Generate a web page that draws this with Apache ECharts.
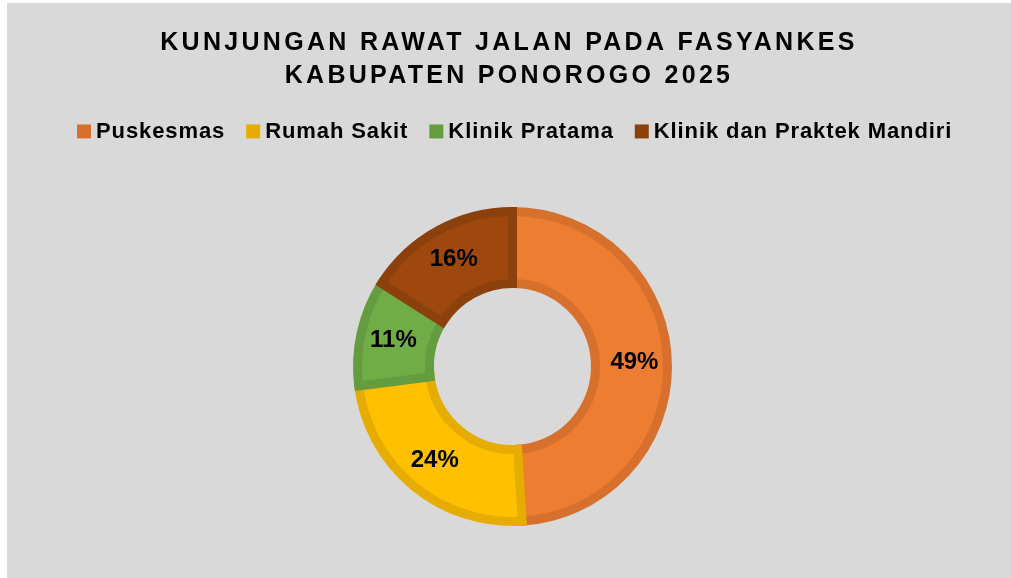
<!DOCTYPE html>
<html>
<head>
<meta charset="utf-8">
<script src="https://cdn.jsdelivr.net/npm/echarts@6/dist/echarts.min.js"></script>
<style>
  html, body { margin: 0; padding: 0; background: #fff; }
  #chart { position: absolute; left: 7px; top: 3px; width: 1004px; height: 575px; background: #d9d9d9; }
</style>
</head>
<body>
<div id="chart"></div>
<script>
var categories = ['Puskesmas', 'Rumah Sakit', 'Klinik Pratama', 'Klinik dan Praktek Mandiri'];
var values = [49, 24, 11, 16];
var fillColors = ['#ed7d31', '#ffc000', '#70ad47', '#9e480e'];
var edgeColors = ['#d6702c', '#e6ad00', '#649c3f', '#8c400c'];

// Excel-like spaced lettering for title and legend (keyed on font size)
var spacing = { '25': '3.3px', '22': '0.9px' };
var proto = CanvasRenderingContext2D.prototype;
['fillText', 'strokeText', 'measureText'].forEach(function (fn) {
    var orig = proto[fn];
    proto[fn] = function () {
        var m = /(\d+)px/.exec(this.font);
        this.letterSpacing = (m && spacing[m[1]]) || '0px';
        return orig.apply(this, arguments);
    };
});

var font = 'Liberation Sans';
var chart = echarts.init(document.getElementById('chart'));
var option = {
    animation: false,
    title: {
        text: 'KUNJUNGAN RAWAT JALAN PADA FASYANKES\nKABUPATEN PONOROGO 2025',
        left: 'center',
        top: 24,
        padding: 0,
        textStyle: {
            fontFamily: font,
            fontSize: 25,
            fontWeight: 'bold',
            color: '#000',
            lineHeight: 33
        }
    },
    legend: {
        top: 117,
        left: 70,
        padding: 0,
        icon: 'rect',
        itemWidth: 14,
        itemHeight: 14,
        itemGap: 21,
        textStyle: {
            fontFamily: font,
            fontSize: 22,
            fontWeight: 'bold',
            color: '#000'
        },
        data: categories.map(function (c, i) {
            return { name: c, itemStyle: { color: edgeColors[i], borderWidth: 0 } };
        })
    },
    series: [{
        type: 'pie',
        radius: [83, 155],
        center: [505.5, 363.5],
        startAngle: 90,
        clockwise: true,
        avoidLabelOverlap: false,
        itemStyle: {
            borderWidth: 9,
            borderJoin: 'miter'
        },
        label: {
            show: true,
            position: 'inside',
            formatter: function (p) {
                return Math.round(p.percent) + '%';
            },
            fontFamily: font,
            fontSize: 24,
            fontWeight: 'bold',
            color: '#000',
            textBorderWidth: 0
        },
        labelLine: { show: false },
        emphasis: { scale: false },
        data: categories.map(function (c, i) {
            return {
                name: c,
                value: values[i],
                itemStyle: { color: fillColors[i], borderColor: edgeColors[i] }
            };
        })
    }]
};
chart.setOption(option);
</script>
</body>
</html>
